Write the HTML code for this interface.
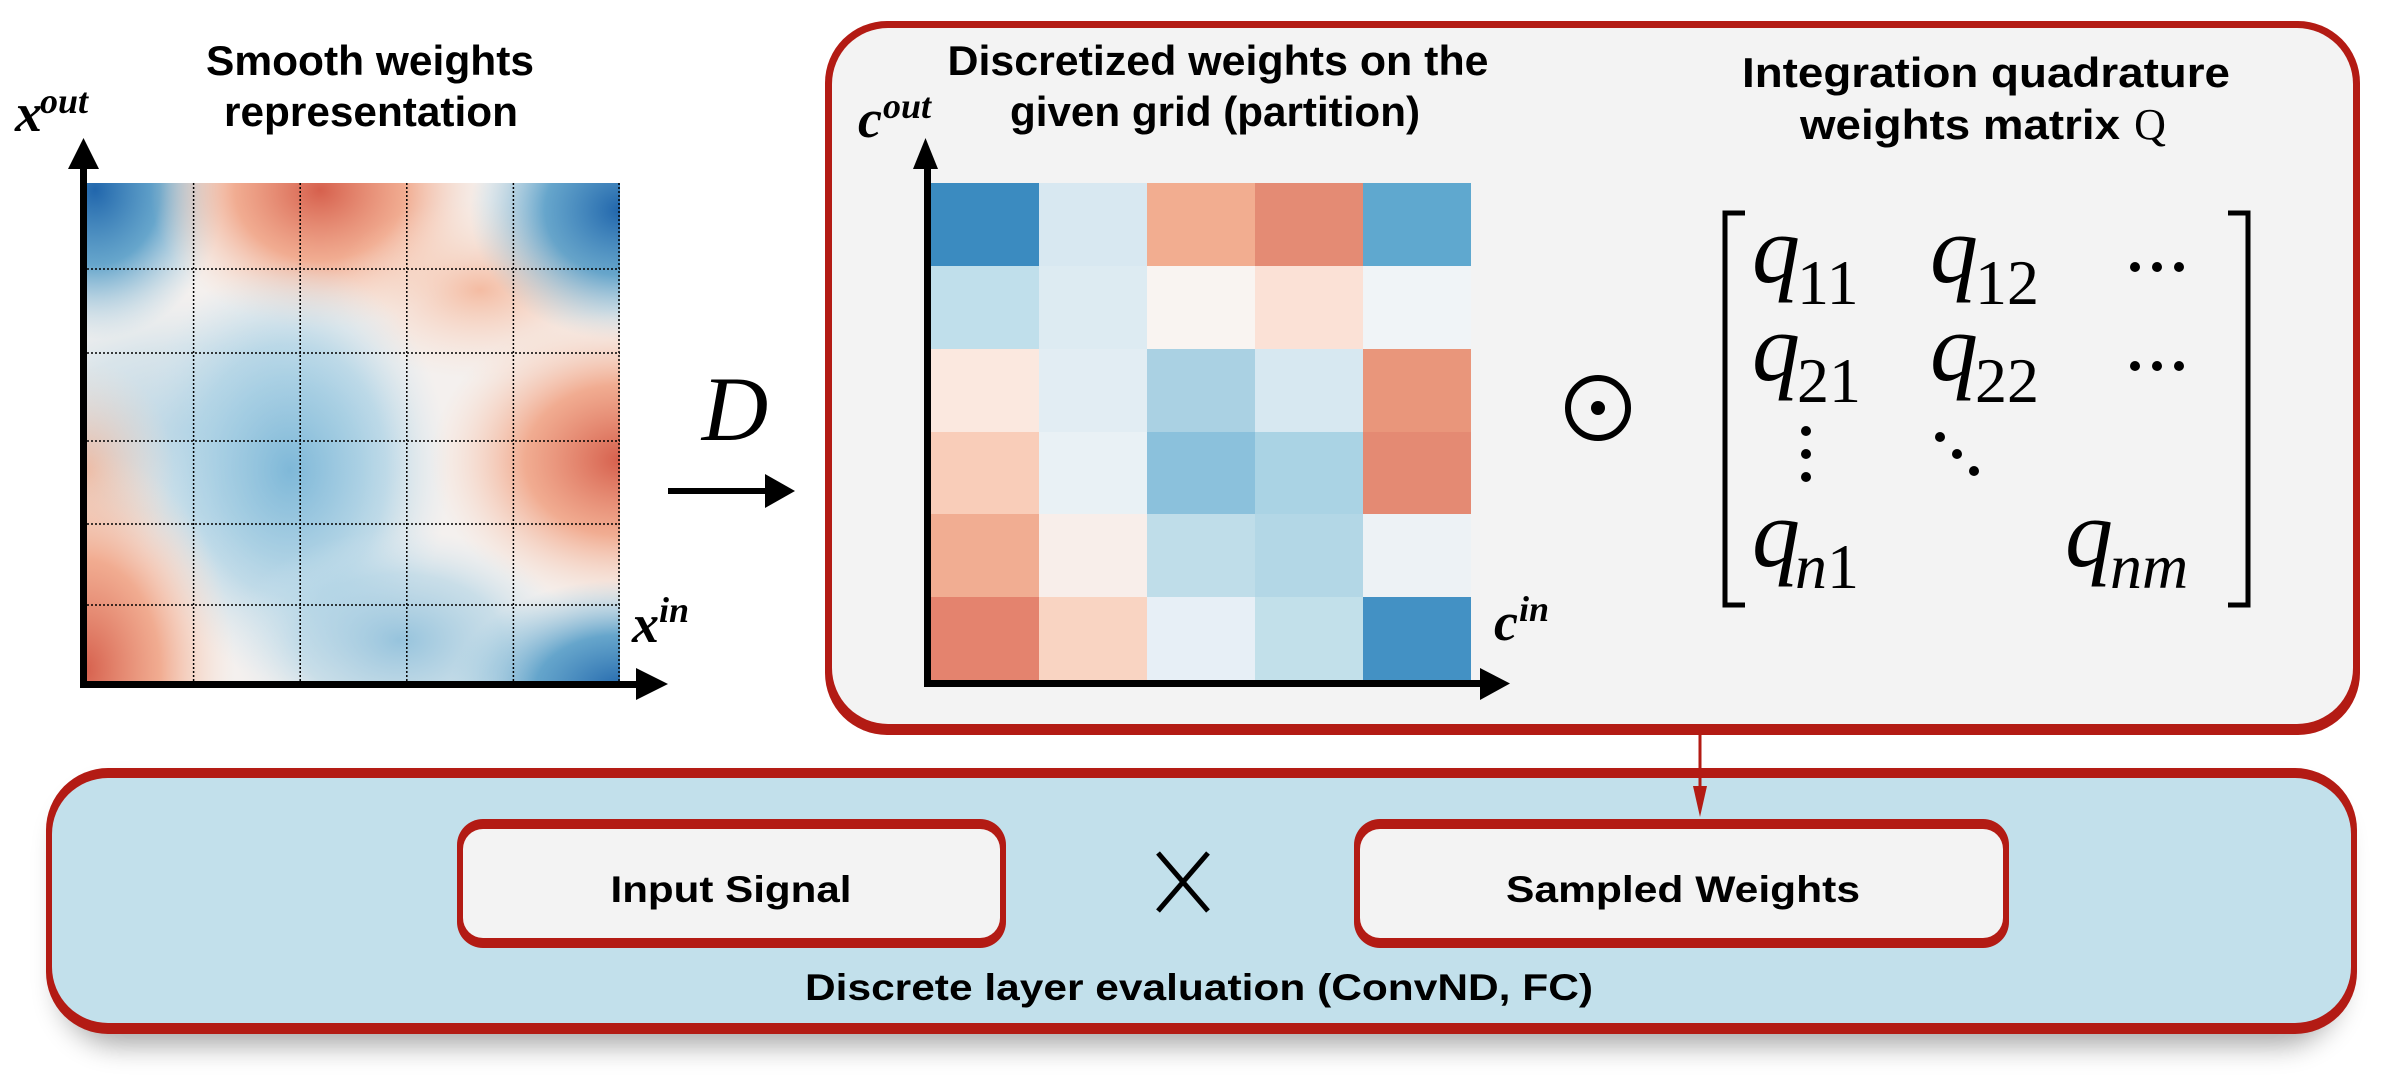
<!DOCTYPE html>
<html><head><meta charset="utf-8"><style>
html,body{margin:0;padding:0;background:#fff;}
svg{display:block;}
.t{font-family:"Liberation Sans",sans-serif;font-weight:bold;fill:#000;}
.m{font-family:"Liberation Serif",serif;font-style:italic;fill:#000;}
.mb{font-family:"Liberation Serif",serif;font-style:italic;font-weight:bold;fill:#000;}
.s{font-family:"Liberation Serif",serif;font-style:normal;fill:#000;}
</style></head><body>
<svg width="2390" height="1084" viewBox="0 0 2390 1084" xmlns="http://www.w3.org/2000/svg">
<defs>
<filter id="sh" x="-5%" y="-20%" width="110%" height="160%"><feGaussianBlur stdDeviation="14"/></filter>
<clipPath id="hm"><rect x="87" y="183" width="533" height="500"/></clipPath>
<radialGradient id="b1"><stop offset="0" stop-color="#2166ac"/><stop offset="0.5" stop-color="#4393c3" stop-opacity="0.8"/><stop offset="1" stop-color="#92c5de" stop-opacity="0"/></radialGradient>
<radialGradient id="b2"><stop offset="0" stop-color="#7fb8d8"/><stop offset="0.6" stop-color="#a8d0e4" stop-opacity="0.7"/><stop offset="1" stop-color="#d1e5f0" stop-opacity="0"/></radialGradient>
<radialGradient id="r1"><stop offset="0" stop-color="#d6604d"/><stop offset="0.5" stop-color="#f09b7a" stop-opacity="0.8"/><stop offset="1" stop-color="#fddbc7" stop-opacity="0"/></radialGradient>
<radialGradient id="r2"><stop offset="0" stop-color="#f4a582"/><stop offset="1" stop-color="#fddbc7" stop-opacity="0"/></radialGradient>
</defs>

<!-- smooth heatmap -->
<g clip-path="url(#hm)">
<rect x="87" y="183" width="533" height="500" fill="#f4f0ee"/>
<ellipse cx="190" cy="430" rx="230" ry="140" fill="url(#b2)" opacity="0.5"/>
<ellipse cx="95" cy="190" rx="130" ry="150" fill="url(#b1)"/>
<ellipse cx="320" cy="190" rx="170" ry="140" fill="url(#r1)"/>
<ellipse cx="480" cy="290" rx="150" ry="90" fill="url(#r2)" opacity="0.7"/>
<ellipse cx="620" cy="210" rx="150" ry="130" fill="url(#b1)"/>
<ellipse cx="290" cy="470" rx="160" ry="210" fill="url(#b2)"/>
<ellipse cx="290" cy="470" rx="120" ry="150" fill="url(#b2)" opacity="0.6"/>
<ellipse cx="620" cy="460" rx="190" ry="150" fill="url(#r1)"/>
<ellipse cx="85" cy="470" rx="90" ry="110" fill="url(#r2)" opacity="0.7"/>
<ellipse cx="85" cy="670" rx="150" ry="220" fill="url(#r1)"/>
<ellipse cx="400" cy="640" rx="170" ry="110" fill="url(#b2)" opacity="0.8"/>
<ellipse cx="620" cy="690" rx="170" ry="110" fill="url(#b1)"/>
<g stroke="#000" stroke-width="1.5" stroke-dasharray="2,2">
<line x1="193.6" y1="183" x2="193.6" y2="683"/><line x1="300.2" y1="183" x2="300.2" y2="683"/>
<line x1="406.8" y1="183" x2="406.8" y2="683"/><line x1="513.4" y1="183" x2="513.4" y2="683"/>
<line x1="619" y1="183" x2="619" y2="683"/>
<line x1="87" y1="269" x2="620" y2="269"/><line x1="87" y1="353" x2="620" y2="353"/>
<line x1="87" y1="441" x2="620" y2="441"/><line x1="87" y1="524" x2="620" y2="524"/>
<line x1="87" y1="605" x2="620" y2="605"/>
</g>
</g>
<!-- left axes -->
<rect x="80" y="165" width="7" height="523" fill="#000"/>
<polygon points="68,169 99,169 83.5,138" fill="#000"/>
<rect x="80" y="681" width="560" height="7" fill="#000"/>
<polygon points="636,668 636,700 668,684" fill="#000"/>
<text class="mb" x="15" y="131" font-size="54">x</text><text class="mb" x="40" y="113" font-size="36">out</text>
<text class="mb" x="632" y="642" font-size="54">x</text><text class="mb" x="659" y="622" font-size="36">in</text>
<text class="t" x="370" y="75" font-size="42" text-anchor="middle" textLength="328" lengthAdjust="spacingAndGlyphs">Smooth weights</text>
<text class="t" x="371" y="126" font-size="42" text-anchor="middle" textLength="294" lengthAdjust="spacingAndGlyphs">representation</text>

<!-- D arrow -->
<text class="m" x="735" y="440" font-size="92" text-anchor="middle">D</text>
<rect x="668" y="488" width="100" height="6" fill="#000"/>
<polygon points="765,474 765,508 795,491" fill="#000"/>

<!-- top box -->
<rect x="825" y="21" width="1535" height="714" rx="62" fill="#b31b14"/>
<rect x="832" y="28" width="1521" height="696" rx="56" fill="#f3f3f3"/>
<text class="t" x="1218" y="75" font-size="42" text-anchor="middle" textLength="541" lengthAdjust="spacingAndGlyphs">Discretized weights on the</text>
<text class="t" x="1215" y="126" font-size="42" text-anchor="middle" textLength="410" lengthAdjust="spacingAndGlyphs">given grid (partition)</text>
<!-- discrete grid -->
<g>
<rect x="930" y="183" width="109" height="83" fill="#3b8bc0"/><rect x="1039" y="183" width="108" height="83" fill="#d8e8f1"/><rect x="1147" y="183" width="108" height="83" fill="#f2ad90"/><rect x="1255" y="183" width="108" height="83" fill="#e48b74"/><rect x="1363" y="183" width="108" height="83" fill="#5fa8cf"/>
<rect x="930" y="266" width="109" height="83" fill="#c0dfeb"/><rect x="1039" y="266" width="108" height="83" fill="#ddebf2"/><rect x="1147" y="266" width="108" height="83" fill="#f9f4f1"/><rect x="1255" y="266" width="108" height="83" fill="#fbe1d6"/><rect x="1363" y="266" width="108" height="83" fill="#f0f4f7"/>
<rect x="930" y="349" width="109" height="83" fill="#fbe8df"/><rect x="1039" y="349" width="108" height="83" fill="#e2edf3"/><rect x="1147" y="349" width="108" height="83" fill="#aad1e3"/><rect x="1255" y="349" width="108" height="83" fill="#d7e8f1"/><rect x="1363" y="349" width="108" height="83" fill="#e9967b"/>
<rect x="930" y="432" width="109" height="82" fill="#f9cdb9"/><rect x="1039" y="432" width="108" height="82" fill="#e9f1f5"/><rect x="1147" y="432" width="108" height="82" fill="#8bc1dc"/><rect x="1255" y="432" width="108" height="82" fill="#aad3e4"/><rect x="1363" y="432" width="108" height="82" fill="#e48a73"/>
<rect x="930" y="514" width="109" height="83" fill="#f1ad92"/><rect x="1039" y="514" width="108" height="83" fill="#f8eeea"/><rect x="1147" y="514" width="108" height="83" fill="#bfdde9"/><rect x="1255" y="514" width="108" height="83" fill="#b3d7e6"/><rect x="1363" y="514" width="108" height="83" fill="#edf2f5"/>
<rect x="930" y="597" width="109" height="83" fill="#e4836e"/><rect x="1039" y="597" width="108" height="83" fill="#f9d4c2"/><rect x="1147" y="597" width="108" height="83" fill="#e7eff6"/><rect x="1255" y="597" width="108" height="83" fill="#c2e0ea"/><rect x="1363" y="597" width="108" height="83" fill="#4391c4"/>
</g>
<rect x="924" y="165" width="7" height="522" fill="#000"/>
<polygon points="913,169 938,169 925.5,138" fill="#000"/>
<rect x="924" y="680" width="560" height="7" fill="#000"/>
<polygon points="1480,668 1480,700 1510,683.5" fill="#000"/>
<text class="mb" x="858" y="137" font-size="54">c</text><text class="mb" x="883" y="118" font-size="36">out</text>
<text class="mb" x="1494" y="640" font-size="54">c</text><text class="mb" x="1519" y="621" font-size="36">in</text>

<!-- odot -->
<circle cx="1598" cy="408" r="30" fill="none" stroke="#000" stroke-width="6"/>
<circle cx="1598" cy="408" r="7" fill="#000"/>

<text class="t" x="1986" y="87" font-size="42" text-anchor="middle" textLength="488" lengthAdjust="spacingAndGlyphs">Integration quadrature</text>
<text class="t" x="1960" y="139" font-size="42" text-anchor="middle" textLength="320" lengthAdjust="spacingAndGlyphs">weights matrix</text>
<text class="s" x="2150" y="139" font-size="44" text-anchor="middle">Q</text>

<!-- matrix -->
<path d="M1745,213 H1725 V605 H1745" fill="none" stroke="#000" stroke-width="5"/>
<path d="M2228,213 H2248 V605 H2228" fill="none" stroke="#000" stroke-width="5"/>
<text class="m" x="1752" y="282" font-size="96">q</text><text class="s" x="1797" y="304" font-size="64">11</text>
<text class="m" x="1930" y="282" font-size="96">q</text><text class="s" x="1975" y="304" font-size="64">12</text>
<text class="m" x="1752" y="380" font-size="96">q</text><text class="s" x="1797" y="402" font-size="64">21</text>
<text class="m" x="1930" y="380" font-size="96">q</text><text class="s" x="1975" y="402" font-size="64">22</text>
<text class="m" x="1752" y="566" font-size="96">q</text><text class="m" x="1795" y="588" font-size="64">n</text><text class="s" x="1827" y="588" font-size="64">1</text>
<text class="m" x="2065" y="566" font-size="96">q</text><text class="m" x="2110" y="588" font-size="64">nm</text>
<g fill="#000">
<circle cx="2135" cy="267" r="5"/><circle cx="2157" cy="267" r="5"/><circle cx="2179" cy="267" r="5"/>
<circle cx="2135" cy="366" r="5"/><circle cx="2157" cy="366" r="5"/><circle cx="2179" cy="366" r="5"/>
<circle cx="1806" cy="431" r="5"/><circle cx="1806" cy="454" r="5"/><circle cx="1806" cy="477" r="5"/>
<circle cx="1940" cy="437" r="5"/><circle cx="1957" cy="454" r="5"/><circle cx="1974" cy="471" r="5"/>
</g>

<!-- bottom box -->
<rect x="60" y="790" width="2280" height="255" rx="60" fill="#000" opacity="0.35" filter="url(#sh)"/>
<rect x="46" y="768" width="2311" height="266" rx="62" fill="#b31b14"/>
<rect x="52" y="778" width="2299" height="245" rx="56" fill="#c2e0eb"/>
<rect x="457" y="819" width="549" height="129" rx="26" fill="#b31b14"/>
<rect x="463" y="829" width="537" height="109" rx="20" fill="#f3f3f3"/>
<rect x="1354" y="819" width="655" height="129" rx="26" fill="#b31b14"/>
<rect x="1360" y="829" width="643" height="109" rx="20" fill="#f3f3f3"/>
<text class="t" x="731" y="902" font-size="37" text-anchor="middle" textLength="241" lengthAdjust="spacingAndGlyphs">Input Signal</text>
<text class="t" x="1683" y="902" font-size="37" text-anchor="middle" textLength="354" lengthAdjust="spacingAndGlyphs">Sampled Weights</text>
<path d="M1158,853 L1208,911 M1208,853 L1158,911" stroke="#000" stroke-width="5"/>
<text class="t" x="1199" y="1000" font-size="37" text-anchor="middle" textLength="788" lengthAdjust="spacingAndGlyphs">Discrete layer evaluation (ConvND, FC)</text>

<!-- connector -->
<line x1="1700" y1="735" x2="1700" y2="790" stroke="#b31b14" stroke-width="3"/>
<polygon points="1693,786 1707,786 1700,817" fill="#b31b14"/>
</svg>
</body></html>
